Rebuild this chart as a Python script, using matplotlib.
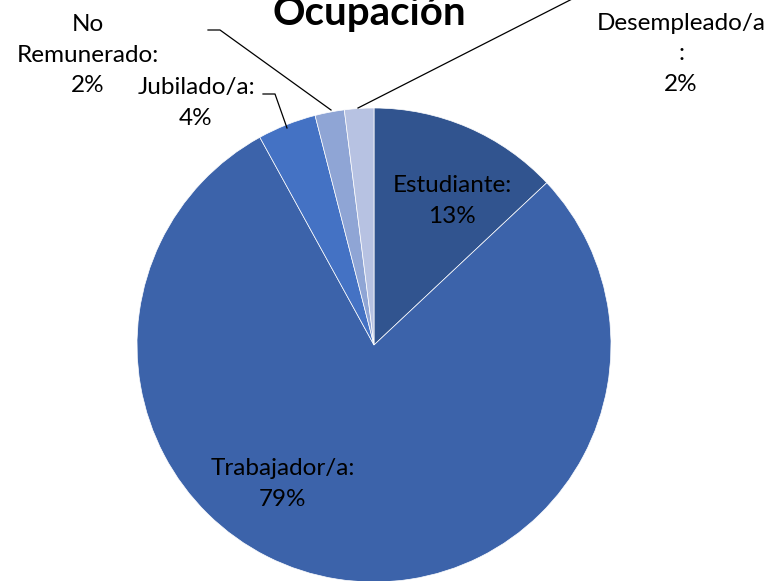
import matplotlib.pyplot as plt

plt.rcParams['font.family'] = ['Lato', 'DejaVu Sans']

categorias = ['Estudiante', 'Trabajador/a', 'Jubilado/a', 'No\nRemunerado', 'Desempleado/a\n']
porcentajes = [13, 79, 4, 2, 2]
colores = ['#31548F', '#3C63AA', '#4472C4', '#8FA5D5', '#B7C2E2']

W, H = 770, 581
fig = plt.figure(figsize=(W / 100, H / 100), dpi=100)
ax = fig.add_axes([0, 0, 1, 1])

def py(y):
    # fila en pixeles (desde arriba) -> y de datos
    return H - y

ax.pie(porcentajes, colors=colores, startangle=90, counterclock=False,
       center=(374, py(345)), radius=237, frame=True,
       wedgeprops=dict(edgecolor='white', linewidth=0.5))
ax.set_xlim(0, W)
ax.set_ylim(0, H)
ax.set_aspect('equal')
ax.axis('off')

# posiciones de las etiquetas (pixeles)
pos = [(452, 201), (283, 484), (196, 103), (88, 55), (681, 54)]
for cat, p, (x, y) in zip(categorias, porcentajes, pos):
    ax.text(x, py(y), f'{cat}:\n{p}%', ha='center', va='center',
            fontsize=17.5, linespacing=1.55, color='black')

# lineas guia
ax.plot([263, 275, 287], [py(94), py(94), py(128)], color='black', lw=0.9)
ax.plot([208, 220, 331], [py(30), py(30), py(110)], color='black', lw=0.9)
ax.plot([358, 580], [py(108), py(-5)], color='black', lw=0.9, clip_on=False)

ax.text(369, py(25), 'Ocupación', ha='center', va='baseline',
        fontsize=29, fontweight='bold')

fig.savefig('out.png', dpi=100)
